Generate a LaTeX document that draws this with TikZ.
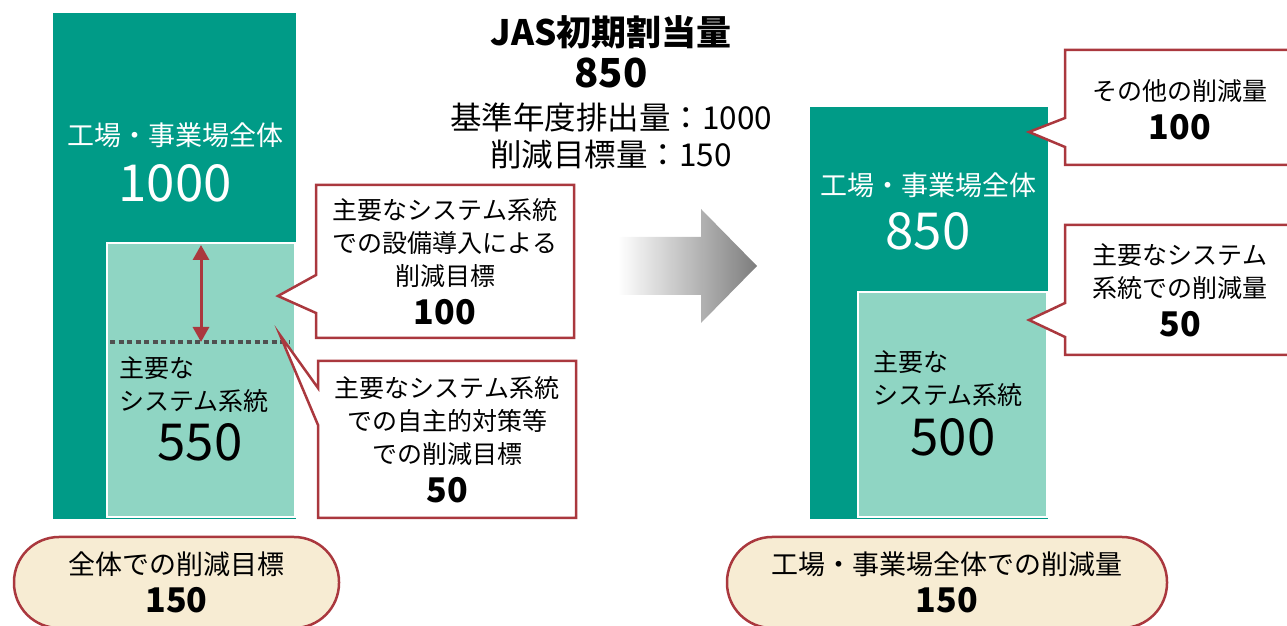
\documentclass[tikz,border=0pt]{standalone}
\usepackage{fontspec}
\setmainfont{Noto Sans CJK JP}
\usetikzlibrary{arrows.meta}

\definecolor{plantgreen}{RGB}{0,155,135}
\definecolor{systemgreen}{RGB}{143,213,195}
\definecolor{cutred}{RGB}{170,56,62}
\definecolor{pillcream}{RGB}{247,236,211}
\definecolor{dotgray}{RGB}{80,80,80}
\definecolor{arrowgray}{RGB}{125,125,125}

\newcommand{\boldnum}[1]{{\fontsize{34}{38}\selectfont\bfseries #1}}

\begin{document}
\begin{tikzpicture}[x=1pt, y=1pt,
    bodytext/.style={font=\fontsize{25}{33}\selectfont, align=center},
    bartext/.style={font=\fontsize{27}{33}\selectfont, text=white},
    bignum/.style={font=\fontsize{51}{55}\selectfont},
    cutline/.style={draw=cutred, line width=2.5pt, fill=white},
    pill/.style={draw=cutred, line width=2.5pt, fill=pillcream, rounded corners=45pt,
        minimum height=91pt, align=center, font=\fontsize{27}{35}\selectfont}
]

    \useasboundingbox (0,0) rectangle (1287,626);

    % Define the coordinates
    \coordinate (arrTop) at (201,381);   % Top of the left system bar
    \coordinate (arrBot) at (201,284);   % Dotted target line
    \coordinate (dotL) at (110,284);     % Left end of dotted line
    \coordinate (dotR) at (290,284);     % Right end of dotted line

    % Left bars (base year)
    \fill[plantgreen] (53,107) rectangle (296,613);
    \draw[systemgreen, fill=systemgreen] (107,109) rectangle (295,383);
    \draw[white, line width=2.5pt] (107,109) rectangle (295,383);

    % Right bars (after reduction)
    \fill[plantgreen] (810,107) rectangle (1048,519);
    \fill[systemgreen] (858,109) rectangle (1047,334);
    \draw[white, line width=2.5pt] (858,109) rectangle (1047,334);

    % Dotted target line and reduction arrow
    \draw[dotgray, line width=4pt, dash pattern=on 5pt off 3.5pt] (dotL) -- (dotR);
    \draw[cutred, line width=3pt, {Triangle[width=16pt,length=15pt]}-{Triangle[width=16pt,length=15pt]}] (arrTop) -- (arrBot);

    % Labels in the left bars
    \node[bartext] (plantL) at (175,491) {工場・事業場全体};
    \node[bignum, text=white] (plantLnum) at (175,443) {1000};
    \node[bodytext, align=left, anchor=west] (sysL) at (116,241) {主要な\\システム系統};
    \node[bignum] (sysLnum) at (200,184) {550};

    % Labels in the right bars
    \node[bartext] (plantR) at (928,441) {工場・事業場全体};
    \node[bignum, text=white] (plantRnum) at (928,395) {850};
    \node[bodytext, align=left, anchor=west] (sysR) at (870,247) {主要な\\システム系統};
    \node[bignum] (sysRnum) at (953,189) {500};

    % Title
    \node[font=\fontsize{35}{38}\selectfont\bfseries] (title) at (611,594) {JAS初期割当量};
    \node[font=\fontsize{40}{44}\selectfont\bfseries] (titlenum) at (611,553) {850};
    \node[font=\fontsize{31.5}{36}\selectfont] (baseline) at (611,509) {基準年度排出量：1000};
    \node[font=\fontsize{31.5}{36}\selectfont] (target) at (611,471) {削減目標量：150};

    % Gradient arrow
    \shade[left color=white, right color=arrowgray]
        (618,331) -- (701,331) -- (701,303) -- (757,360) -- (701,417) -- (701,389) -- (618,389) -- cycle;

    % Callout for equipment reduction
    \draw[cutline] (316,441) -- (574,441) -- (574,288) -- (316,288) -- (316,313) -- (278,330) -- (316,351) -- cycle;
    \node[bodytext] (cutEquip) at (445,364.5) {主要なシステム系統\\での設備導入による\\削減目標\\[6pt]\boldnum{100}};

    % Callout for voluntary measures
    \draw[cutline] (318,265) -- (576,265) -- (576,108) -- (318,108) -- (318,201) -- (280,291) -- (318,238) -- cycle;
    \node[bodytext] (cutVol) at (447,186.5) {主要なシステム系統\\での自主的対策等\\での削減目標\\[6pt]\boldnum{50}};

    % Callout for other reductions
    \draw[cutline] (1065,576) -- (1300,576) -- (1300,461) -- (1065,461) -- (1065,479) -- (1029,494) -- (1065,508) -- cycle;
    \node[bodytext] (cutOther) at (1180,516) {その他の削減量\\[6pt]\boldnum{100}};

    % Callout for system reductions
    \draw[cutline] (1065,401) -- (1300,401) -- (1300,271) -- (1065,271) -- (1065,289) -- (1029,306) -- (1065,323) -- cycle;
    \node[bodytext] (cutSys) at (1180,336) {主要なシステム\\系統での削減量\\[6pt]\boldnum{50}};

    % Totals
    \node[pill, minimum width=325pt] (totalL) at (176.5,43.5) {全体での削減目標\\[3pt]\boldnum{150}};
    \node[pill, minimum width=440pt] (totalR) at (947,43.5) {工場・事業場全体での削減量\\[3pt]\boldnum{150}};

\end{tikzpicture}
\end{document}
